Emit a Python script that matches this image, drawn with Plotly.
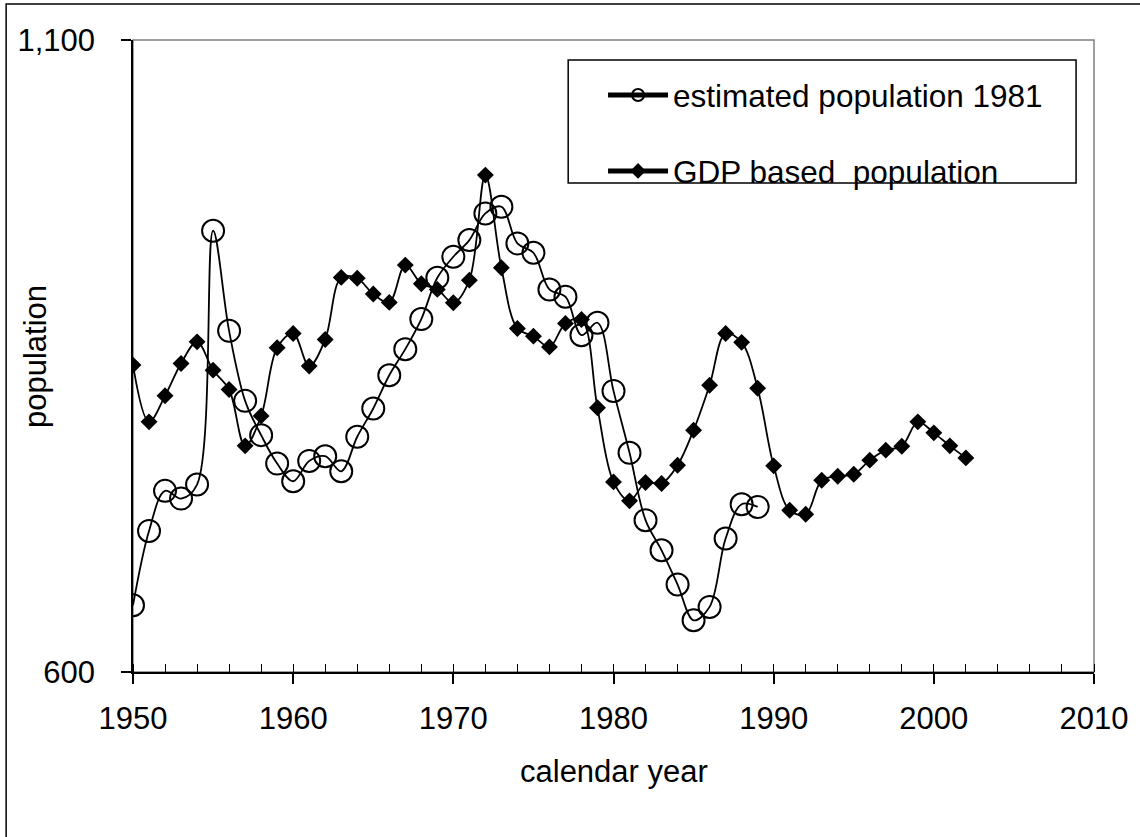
import plotly.graph_objects as go

years_est = list(range(1950, 1990))
est_pop_1981 = [652.8, 711.6, 743.3, 737.2, 748.3, 949.1, 869.9, 814.5, 787.4, 764.9,
                750.9, 767.0, 770.7, 758.8, 786.1, 808.5, 834.8, 855.4, 879.2, 911.9,
                928.5, 941.7, 962.8, 968.1, 939.1, 931.7, 902.7, 896.9, 866.5, 876.3,
                822.4, 773.4, 720.1, 696.3, 669.2, 640.9, 651.5, 705.6, 732.7, 730.6]

years_gdp = list(range(1950, 2003))
gdp_pop = [842.8, 797.9, 818.5, 844.1, 861.2, 838.8, 823.5, 778.9, 802.6, 856.5,
           867.8, 842.0, 863.1, 912.2, 911.5, 899.0, 892.4, 921.9, 907.2, 902.7,
           892.1, 910.0, 993.1, 919.8, 871.8, 865.7, 857.2, 875.8, 878.9, 809.0,
           750.4, 735.4, 749.9, 749.1, 763.6, 791.3, 826.9, 867.8, 860.8, 824.5,
           763.1, 728.0, 724.8, 751.7, 754.9, 756.5, 767.6, 775.5, 778.6, 797.9,
           789.2, 778.9, 769.4]

FONT = "Liberation Sans, Arial, sans-serif"
FS = 31

fig = go.Figure()
fig.add_trace(go.Scatter(
    x=years_est, y=est_pop_1981, name="estimated population 1981",
    mode="lines+markers", legendgroup="a",
    line=dict(color="black", width=1.8, shape="spline", smoothing=1.0),
    marker=dict(symbol="circle-open", size=22, color="black", line=dict(width=2)),
))
fig.add_trace(go.Scatter(
    x=years_gdp, y=gdp_pop, name="GDP based  population",
    mode="lines+markers", legendgroup="b",
    line=dict(color="black", width=1.8, shape="spline", smoothing=1.0),
    marker=dict(symbol="diamond", size=13, color="black"),
))

fig.update_layout(
    width=1140, height=837,
    margin=dict(l=133, r=42, t=40, b=165),
    paper_bgcolor="white", plot_bgcolor="white",
    font=dict(family=FONT, size=FS, color="black"),
    showlegend=True,
    legend=dict(
        x=(605 - 133) / 965, y=0.9557, xanchor="left", yanchor="top",
        borderwidth=0, bgcolor="rgba(0,0,0,0)",
        font=dict(family=FONT, size=31.5, color="black"),
        tracegroupgap=32, itemwidth=60, itemsizing="constant",
    ),
    xaxis=dict(
        range=[1950, 2010], tick0=1950, dtick=10,
        showline=True, linecolor="black", linewidth=1.5,
        ticks="outside", ticklen=10, tickwidth=1.5, tickcolor="black",
        ticklabelstandoff=8,
        minor=dict(dtick=2, ticks="inside", ticklen=8, tickwidth=1.2, tickcolor="black"),
        showgrid=False, zeroline=False,
        tickfont=dict(family=FONT, size=FS),
    ),
    yaxis=dict(
        range=[600, 1100], tick0=600, dtick=500, tickformat=",",
        showline=True, linecolor="black", linewidth=1.5,
        ticks="outside", ticklen=10, tickwidth=1.5, tickcolor="black",
        ticklabelstandoff=20,
        showgrid=False, zeroline=False,
        tickfont=dict(family=FONT, size=FS),
    ),
    shapes=[
        dict(type="rect", xref="paper", yref="paper", x0=0, x1=1, y0=0, y1=1,
             line=dict(color="#808080", width=1.5), layer="below"),
        dict(type="rect", xref="paper", yref="paper", x0=-0.132, x1=1.2, y0=-0.5, y1=1.057,
             line=dict(color="black", width=1.5), layer="below"),
        dict(type="rect", xref="paper", yref="paper",
             x0=(570 - 133) / 965, x1=(1080 - 133) / 965,
             y0=1 - (183 - 40) / 632, y1=1 - (60 - 40) / 632,
             line=dict(color="black", width=1.5), fillcolor="white", layer="below"),
    ],
    annotations=[
        dict(text="population", xref="paper", yref="paper", x=-0.102, y=0.5,
             textangle=-90, showarrow=False, xanchor="center", yanchor="middle",
             font=dict(family=FONT, size=FS)),
        dict(text="calendar year", xref="paper", yref="paper", x=0.5, y=-0.158,
             showarrow=False, xanchor="center", yanchor="middle",
             font=dict(family=FONT, size=FS)),
    ],
)

fig.write_html("out.html")
